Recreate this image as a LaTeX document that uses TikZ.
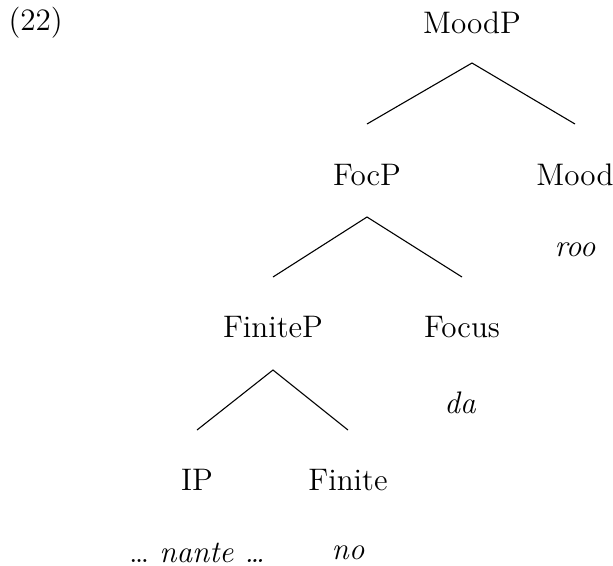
\documentclass[tikz,border=0pt]{standalone}
\usetikzlibrary{positioning}
\tikzset{cat/.style={inner sep=0pt}, % category labels
         word/.style={inner sep=0pt,font=\fontsize{11.4}{13.7}\selectfont\itshape}} % lexical items

\begin{document}
\begin{tikzpicture}[x=0.366pt,y=-0.366pt,font=\fontsize{11.4}{13.7}\selectfont]
  \useasboundingbox (0,0) rectangle (613,565);

  \node[cat,anchor=west] (exnum) at (8,23) {(22)};   % example number

  \node[cat] (moodp)   at (472,23)  {MoodP};          % top level
  \node[cat] (focp)    at (367,175) {FocP};
  \node[cat] (mood)    at (575,175) {Mood};
  \node[word] (roo)    at (575,250) {roo};

  \node[cat] (finitep) at (273,327) {FiniteP};         % middle level
  \node[cat] (focus)   at (462,327) {Focus};
  \node[word] (da)     at (460,403) {da};

  \node[cat] (ip)      at (197,480) {IP};              % bottom level
  \node[cat] (finite)  at (348,480) {Finite};
  \node[cat] (nante)   at (197,553) {\ldots\ \textit{nante \ldots}};
  \node[word] (no)     at (348,553) {no};

  \coordinate (moodp-top)   at (472,63);
  \coordinate (focp-end)    at (367,124);
  \coordinate (mood-end)    at (575,124);
  \coordinate (focp-top)    at (367,217);
  \coordinate (finitep-end) at (273,277);
  \coordinate (focus-end)   at (462,277);
  \coordinate (finitep-top) at (273,370);
  \coordinate (ip-end)      at (197,430);
  \coordinate (finite-end)  at (348,430);

  \draw (focp-end) -- (moodp-top) -- (mood-end);       % MoodP branches
  \draw (finitep-end) -- (focp-top) -- (focus-end);    % FocP branches
  \draw (ip-end) -- (finitep-top) -- (finite-end);     % FiniteP branches
\end{tikzpicture}
\end{document}
